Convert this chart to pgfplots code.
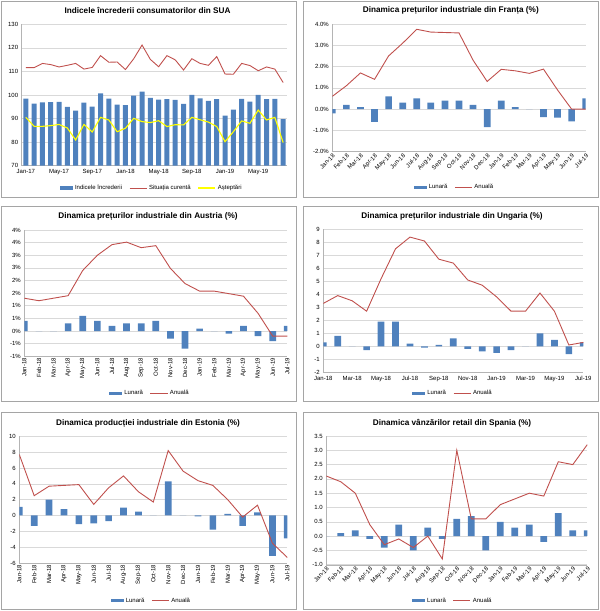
\documentclass[border=0pt]{standalone}
\usepackage{fontspec}
\setmainfont{Liberation Sans}
\usepackage{pgfplots}
\usepackage{pgfplotstable}
\pgfplotsset{compat=1.18}

\definecolor{barblue}{RGB}{79,129,189}
\definecolor{linered}{RGB}{192,80,77}
\definecolor{lineyel}{RGB}{255,255,0}
\definecolor{gridgray}{RGB}{217,217,217}
\definecolor{axisgray}{RGB}{180,180,180}
\definecolor{framegray}{RGB}{165,165,165}

\pgfplotsset{
  panel/.style={
    scale only axis, anchor=south west,
    axis lines*=left, axis line style={-, draw=axisgray},
    ymajorgrids, grid style={gridgray, line width=0.6pt},
    major tick length=0pt,
    tick label style={font=\fontsize{6}{7}\selectfont},
    /pgf/number format/assume math mode=true,
    legend style={draw=none, fill=none, font=\fontsize{6}{7}\selectfont,
      legend columns=-1, anchor=center, inner sep=0pt,
      /tikz/every even column/.append style={column sep=5pt}},
  },
  month/.style={xmin=0, xmax=18, xtick={0,...,18},
    xticklabels={Jan-18,Feb-18,Mar-18,Apr-18,May-18,Jun-18,Jul-18,Aug-18,Sep-18,Oct-18,Nov-18,Dec-18,Jan-19,Feb-19,Mar-19,Apr-19,May-19,Jun-19,Jul-19}},
  rot45/.style={xticklabel style={rotate=45, anchor=north east, inner sep=1pt}},
  rot90/.style={xticklabel style={rotate=90, anchor=east, inner sep=1.5pt}},
  lun/.style={ybar, bar width=6.7pt, fill=barblue, draw=none,
    legend image code/.code={\fill[barblue] (0pt,-1.6pt) rectangle (13pt,1.6pt);}},
  anu/.style={linered, line width=0.9pt, no markers},
}

% consumer confidence, Jan-17 .. Aug-19
\pgfplotstableread{
i c s e
0 98.5 111.6 90.5
1 96.3 111.6 86.7
2 96.9 113.4 86.7
3 97.0 112.9 87.0
4 97.1 111.9 87.5
5 95.0 112.6 86.0
6 93.4 113.4 80.9
7 96.8 111.0 87.5
8 95.1 111.7 84.3
9 100.7 116.7 90.5
10 98.5 113.9 89.4
11 95.9 114.0 84.4
12 95.7 110.8 85.9
13 99.7 115.4 90.1
14 101.4 121.2 88.7
15 98.8 115.1 88.3
16 98.0 112.0 89.1
17 98.2 116.7 86.6
18 97.9 114.9 87.4
19 96.2 110.6 87.3
20 100.1 115.4 90.5
21 98.6 113.4 89.5
22 97.5 112.6 88.5
23 98.3 116.3 86.6
24 91.2 108.9 80.2
25 93.8 108.8 84.4
26 98.4 113.4 89.0
27 97.2 112.5 88.0
28 100.0 110.3 93.6
29 98.2 111.9 89.4
30 98.4 111.0 90.5
31 89.8 105.3 79.8
}\sua

\pgfplotstableread{
i m a
0 -0.2 0.6
1 0.2 1.1
2 0.1 1.7
3 -0.6 1.4
4 0.6 2.5
5 0.3 3.1
6 0.5 3.75
7 0.3 3.62
8 0.4 3.6
9 0.4 3.58
10 0.2 2.3
11 -0.85 1.3
12 0.4 1.87
13 0.1 1.8
14 0.0 1.68
15 -0.37 1.88
16 -0.4 0.9
17 -0.57 0.0
18 0.5 0.0
}\franta

\pgfplotstableread{
i m a
0 0.4 1.3
1 0 1.2
2 0 1.3
3 0.3 1.4
4 0.6 2.4
5 0.4 3.0
6 0.2 3.42
7 0.3 3.52
8 0.3 3.3
9 0.4 3.38
10 -0.3 2.48
11 -0.7 1.88
12 0.1 1.58
13 0 1.58
14 -0.1 1.48
15 0.2 1.38
16 -0.2 0.7
17 -0.4 -0.2
18 0.2 -0.2
}\austria

\pgfplotstableread{
i m a
0 0.3 3.3
1 0.8 3.9
2 0 3.5
3 -0.3 2.7
4 1.9 5.2
5 1.9 7.5
6 0.2 8.4
7 -0.1 8.1
8 0.1 6.7
9 0.6 6.4
10 -0.2 5.1
11 -0.4 4.7
12 -0.5 3.8
13 -0.3 2.7
14 0 2.7
15 1.0 4.1
16 0.5 2.7
17 -0.6 0.1
18 0.3 0.3
}\ungaria

\pgfplotstableread{
i m a
0 1.1 7.7
1 -1.3 2.5
2 2.0 3.7
3 0.8 3.8
4 -1.1 3.9
5 -1.0 1.4
6 -0.7 3.5
7 1.0 5.0
8 0.5 3.0
9 0 1.7
10 4.3 8.2
11 0 5.6
12 -0.1 4.4
13 -1.8 3.8
14 0.2 2.0
15 -1.3 -0.2
16 0.4 1.3
17 -5.1 -3.5
18 -2.9 -5.3
}\estonia

\pgfplotstableread{
i m a
0 0 2.1
1 0.1 1.9
2 0.2 1.5
3 -0.1 0.4
4 -0.4 -0.3
5 0.4 -0.1
6 -0.5 -0.4
7 0.3 0.0
8 -0.1 -0.8
9 0.6 3.0
10 0.7 0.6
11 -0.5 0.6
12 0.5 1.1
13 0.3 1.3
14 0.4 1.5
15 -0.2 1.4
16 0.8 2.6
17 0.2 2.5
18 0.2 3.2
}\spania

\begin{document}
\begin{tikzpicture}[x=1pt,y=1pt]
\useasboundingbox (0,0) rectangle (600,611);
\begin{scope}[framegray, line width=0.7pt]
\draw (1,414) rectangle (296.3,610);
\draw (303.7,414) rectangle (598.5,610);
\draw (1,209.3) rectangle (296.3,404.3);
\draw (303.7,209.3) rectangle (598.5,404.3);
\draw (1,2) rectangle (296.3,198.3);
\draw (303.7,2) rectangle (598.5,198.3);
\end{scope}
\begin{scope}[font=\bfseries\fontsize{8.2}{9}\selectfont]
\node at (147.5,600.3) {Indicele încrederii consumatorilor din SUA};
\node at (450.8,600.3) {Dinamica prețurilor industriale din Franța (\%)};
\node at (148,395) {Dinamica prețurilor industriale din Austria (\%)};
\node at (452,395) {Dinamica prețurilor industriale din Ungaria (\%)};
\node at (148,187.7) {Dinamica producției industriale din Estonia (\%)};
\node at (452,187.7) {Dinamica vânzărilor retail din Spania (\%)};
\end{scope}

% SUA
\begin{axis}[panel, at={(21.7pt,445.3pt)}, width=265.6pt, height=141.4pt,
  xmin=-0.5, xmax=31.5, ymin=70, ymax=130, ytick={70,80,...,130},
  xtick={0,4,...,28},
  xticklabels={Jan-17,May-17,Sep-17,Jan-18,May-18,Sep-18,Jan-19,May-19},
  legend style={at={(0.49,-0.158)}}]
\addplot[lun, bar width=5pt] table[x=i,y=c]{\sua};
\addlegendentry{Indicele încrederii}
\addplot[anu] table[x=i,y=s]{\sua};
\addlegendentry{Situația curentă}
\addplot[lineyel, line width=1.1pt, no markers] table[x=i,y=e]{\sua};
\addlegendentry{Așteptări}
\end{axis}

% Franta
\begin{axis}[panel, month, rot45, at={(332.3pt,459.3pt)}, width=253.4pt, height=127.7pt,
  ymin=-2, ymax=4, ytick={-2,...,4},
  yticklabels={-2.0\%,-1.0\%,0.0\%,1.0\%,2.0\%,3.0\%,4.0\%},
  legend style={at={(0.482,-0.279)}}]
\addplot[lun] table[x=i,y=m]{\franta};
\addlegendentry{Lunară}
\addplot[anu] table[x=i,y=a]{\franta};
\addlegendentry{Anuală}
\end{axis}

% Austria
\begin{axis}[panel, month, rot90, at={(24.3pt,254.7pt)}, width=263pt, height=126.3pt,
  ymin=-1, ymax=4, ytick={-1,-0.5,0,0.5,1,1.5,2,2.5,3,3.5,4},
  yticklabels={-1\%,-1\%,0\%,1\%,1\%,2\%,2\%,3\%,3\%,4\%,4\%},
  legend style={at={(0.478,-0.293)}}]
\addplot[lun] table[x=i,y=m]{\austria};
\addlegendentry{Lunară}
\addplot[anu] table[x=i,y=a]{\austria};
\addlegendentry{Anuală}
\end{axis}

% Ungaria
\begin{axis}[panel, at={(323.3pt,238.7pt)}, width=260pt, height=143pt,
  xmin=0, xmax=18, xtick={0,2,...,18},
  xticklabels={Jan-18,Mar-18,May-18,Jul-18,Sep-18,Nov-18,Jan-19,Mar-19,May-19,Jul-19},
  ymin=-2, ymax=9, ytick={-2,...,9},
  legend style={at={(0.499,-0.147)}}]
\addplot[lun] table[x=i,y=m]{\ungaria};
\addlegendentry{Lunară}
\addplot[anu] table[x=i,y=a]{\ungaria};
\addlegendentry{Anuală}
\end{axis}

% Estonia
\begin{axis}[panel, month, rot90, at={(19.3pt,48pt)}, width=268pt, height=126.7pt,
  ymin=-6, ymax=10, ytick={-6,-4,...,10},
  legend style={at={(0.493,-0.298)}}]
\addplot[lun] table[x=i,y=m]{\estonia};
\addlegendentry{Lunară}
\addplot[anu] table[x=i,y=a]{\estonia};
\addlegendentry{Anuală}
\end{axis}

% Spania
\begin{axis}[panel, month, rot45, at={(326.3pt,46.3pt)}, width=261pt, height=128.7pt,
  ymin=-1, ymax=3.5, ytick={-1,-0.5,0,0.5,1,1.5,2,2.5,3,3.5},
  yticklabel style={/pgf/number format/.cd, fixed, fixed zerofill, precision=1},
  legend style={at={(0.485,-0.280)}}]
\addplot[lun] table[x=i,y=m]{\spania};
\addlegendentry{Lunară}
\addplot[anu] table[x=i,y=a]{\spania};
\addlegendentry{Anuală}
\end{axis}
\end{tikzpicture}
\end{document}
